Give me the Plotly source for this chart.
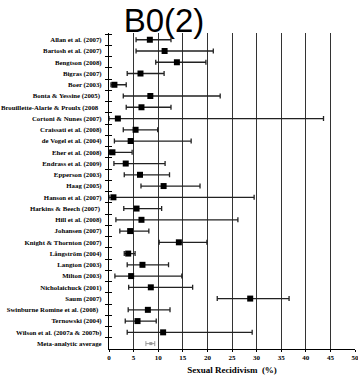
import plotly.graph_objects as go

studies = [
    "Allan et al. (2007)", "Bartosh et al. (2007)", "Bengtson (2008)", "Bigras (2007)",
    "Boer (2003)", "Bonta & Yessine (2005)\u00a0", "Brouillette-Alarie & Proulx (2008\u00a0\u00a0",
    "Cortoni & Nunes (2007)", "Craissati et al. (2008)", "de Vogel et al. (2004)",
    "Eher et al. (2008)", "Endrass et al. (2009)", "Epperson (2003)", "Haag (2005)",
    "Hanson et al. (2007)", "Harkins & Beech (2007)\u00a0", "Hill et al. (2008)", "Johansen (2007)",
    "Knight & Thornton (2007)", "Långström (2004)", "Langton (2003)", "Milton (2003)",
    "Nicholaichuck (2001)", "Saum (2007)", "Swinburne Romine et al. (2008)\u00a0\u00a0",
    "Ternowski (2004)", "Wilson et al. (2007a & 2007b)",
]
estimate = [8.3, 11.3, 13.8, 6.4, 1.1, 8.4, 6.6, 1.8, 5.4, 4.4, 0.7, 3.4, 6.3, 11.1,
            0.9, 5.6, 6.6, 4.3, 14.2, 3.9, 6.8, 4.5, 8.5, 28.7, 7.9, 5.8, 11.0]
lower = [5.5, 5.5, 9.5, 3.7, 0.4, 2.9, 3.5, 0.0, 2.9, 1.1, 0.1, 1.0, 3.1, 6.5,
         0.0, 3.0, 1.4, 2.2, 10.2, 3.1, 3.7, 1.2, 4.0, 22.0, 3.9, 3.3, 3.7]
upper = [12.6, 21.2, 19.7, 11.2, 3.5, 22.6, 12.6, 43.6, 9.9, 16.7, 4.7, 11.4, 12.3, 18.5,
         29.5, 10.7, 26.2, 8.1, 19.9, 5.3, 12.1, 14.8, 17.0, 36.6, 12.4, 9.6, 29.1]

meta_label = "Meta-analytic average"
meta_est = [8.5]
meta_lower = [7.5]
meta_upper = [9.3]

x_ticks = [0, 5, 10, 15, 20, 25, 30, 35, 40, 45, 50]

labels = studies + [meta_label]
ypos = list(range(len(studies)))
meta_y = [len(studies)]

serif = "Liberation Serif, Times New Roman, serif"

fig = go.Figure()
fig.add_trace(go.Scatter(
    x=estimate, y=ypos, mode="markers",
    marker=dict(symbol="square", size=6, color="black"),
    error_x=dict(type="data", symmetric=False,
                 array=[u - e for u, e in zip(upper, estimate)],
                 arrayminus=[e - l for e, l in zip(estimate, lower)],
                 color="#222222", thickness=1.3, width=2.5),
    showlegend=False, cliponaxis=False,
))
fig.add_trace(go.Scatter(
    x=meta_est, y=meta_y, mode="markers",
    marker=dict(symbol="square", size=3, color="#999999"),
    error_x=dict(type="data", symmetric=False,
                 array=[u - e for u, e in zip(meta_upper, meta_est)],
                 arrayminus=[e - l for e, l in zip(meta_est, meta_lower)],
                 color="#999999", thickness=1, width=2.5),
    showlegend=False,
))

n = len(labels)
fig.update_layout(
    template="none",
    width=358, height=378,
    margin=dict(l=109, r=3, t=33, b=29, autoexpand=False),
    paper_bgcolor="white", plot_bgcolor="white",
    title=dict(text="B0(2)", font=dict(family="Liberation Sans, Arial, sans-serif", size=33, color="black"),
               x=164 / 358, xref="container", xanchor="center",
               y=1 - 9 / 378, yref="container", yanchor="top"),
    xaxis=dict(range=[0, 50], tickvals=x_ticks, ticktext=["<b>%d</b>" % t for t in x_ticks],
               automargin=False, ticklabeloverflow="allow",
               showgrid=True, gridcolor="#333333", gridwidth=1, zeroline=False,
               showline=True, linecolor="black", linewidth=1,
               ticks="outside", ticklen=2, tickcolor="black",
               tickfont=dict(family=serif, size=7, color="black"),
               title=dict(text="<b>Sexual Recidivism  (%)</b>", font=dict(family=serif, size=9, color="black"),
                          standoff=5)),
    yaxis=dict(range=[n - 0.52, -0.6], tickvals=list(range(n)), ticktext=["<b>%s</b>" % s for s in labels],
               automargin=False,
               showgrid=False, zeroline=False, showline=True, linecolor="black", linewidth=1,
               ticks="", ticklabelstandoff=5,
               tickfont=dict(family=serif, size=6.8, color="black"),
               minor=dict(tickvals=[i - 0.5 for i in range(n + 1)], ticks="outside", ticklen=3,
                          tickcolor="black", showgrid=False)),
    yaxis2=dict(range=[n - 0.52, -0.6], overlaying="y", side="left", showticklabels=False,
                automargin=False,
                showgrid=False, zeroline=False, tickvals=[], ticks="",
                minor=dict(tickvals=[i - 0.5 for i in range(n + 1)], ticks="inside", ticklen=3,
                           tickcolor="black", showgrid=False)),
)
fig.add_trace(go.Scatter(x=[None], y=[None], yaxis="y2", showlegend=False))

fig.write_html("out.html", config={"displayModeBar": False},
               post_script="document.body.style.margin='0';")
